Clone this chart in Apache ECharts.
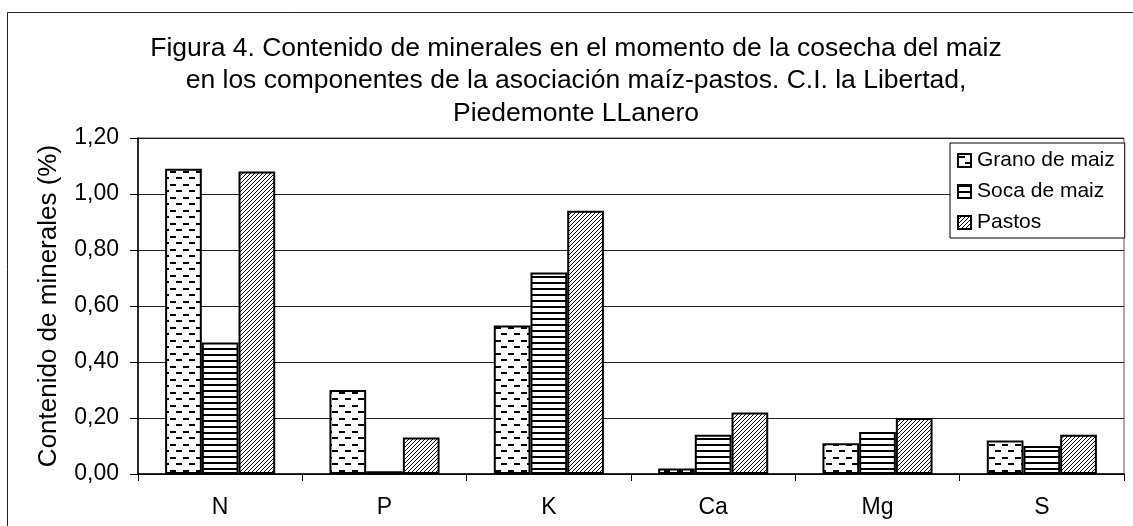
<!DOCTYPE html>
<html><head><meta charset="utf-8">
<script src="https://cdn.jsdelivr.net/npm/echarts@6/dist/echarts.min.js"></script>
<style>html,body{margin:0;padding:0;background:#fff}#c{width:1133px;height:526px}</style>
</head><body><div id="c"></div>
<script>
const categories = ['N', 'P', 'K', 'Ca', 'Mg', 'S'];
const grano = [1.09, 0.30, 0.53, 0.02, 0.11, 0.12];
const soca  = [0.47, 0.01, 0.72, 0.14, 0.15, 0.10];
const pastos = [1.08, 0.13, 0.94, 0.22, 0.20, 0.14];
const seriesNames = ['Grano de maiz', 'Soca de maiz', 'Pastos'];
const yTicks = [0, 0.2, 0.4, 0.6, 0.8, 1.0, 1.2];

function pat(kind) {
  const c = document.createElement('canvas');
  const ctx = c.getContext('2d');
  if (kind === 'dash') {
    c.width = 13; c.height = 13;
    ctx.fillStyle = '#fff'; ctx.fillRect(0, 0, 13, 13);
    ctx.fillStyle = '#000';
    ctx.fillRect(1, 2, 6, 2);
    ctx.fillRect(7, 8, 6, 2);
  } else if (kind === 'hline') {
    c.width = 6; c.height = 6;
    ctx.fillStyle = '#fff'; ctx.fillRect(0, 0, 6, 6);
    ctx.fillStyle = '#000';
    ctx.fillRect(0, 0, 6, 2);
  } else {
    c.width = 4; c.height = 4;
    ctx.fillStyle = '#fff'; ctx.fillRect(0, 0, 4, 4);
    ctx.strokeStyle = '#000'; ctx.lineWidth = 1;
    ctx.beginPath();
    ctx.moveTo(-1, 5); ctx.lineTo(5, -1);
    ctx.moveTo(-1, 1); ctx.lineTo(1, -1);
    ctx.moveTo(3, 5); ctx.lineTo(5, 3);
    ctx.stroke();
  }
  return { image: c, repeat: 'repeat' };
}
const fills = [pat('dash'), pat('hline'), pat('diag')];
const datas = [grano, soca, pastos];

const chart = echarts.init(document.getElementById('c'), null, { renderer: 'canvas' });
const font = '"Liberation Sans", Arial, sans-serif';
chart.setOption({
  backgroundColor: '#fff',
  animation: false,
  title: {
    text: 'Figura 4. Contenido de minerales en el momento de la cosecha del maiz\nen los componentes de la asociación maíz-pastos. C.I. la Libertad,\nPiedemonte LLanero',
    left: 571, top: 27, textAlign: 'center',
    textStyle: { fontFamily: font, fontSize: 26.5, fontWeight: 'normal', color: '#000', lineHeight: 32.5 }
  },
  graphic: [{
    type: 'rect', shape: { x: 7.5, y: 12.5, width: 1140, height: 530 },
    style: { fill: 'none', stroke: '#222', lineWidth: 1 }, silent: true, z: -1
  }, {
    type: 'rect', shape: { x: 138, y: 138, width: 986, height: 336 },
    style: { fill: 'none', stroke: '#555', lineWidth: 1 }, silent: true, z: -1
  }],
  legend: {
    orient: 'vertical', left: 950, top: 143,
    data: seriesNames,
    backgroundColor: '#fff', borderColor: '#000', borderWidth: 1,
    padding: [7, 10, 5, 7], itemGap: 10,
    itemWidth: 13, itemHeight: 13, icon: 'rect',
    textStyle: { fontFamily: font, fontSize: 21, color: '#000', padding: [0, 0, 0, 1] }
  },
  grid: { left: 138, right: 9, top: 138, bottom: 52, containLabel: false },
  xAxis: {
    type: 'category', data: categories,
    axisLine: { lineStyle: { color: '#000', width: 1.5 } },
    axisTick: { show: true, length: 7, lineStyle: { color: '#000' } },
    axisLabel: { fontFamily: font, fontSize: 23, color: '#000', margin: 22 }
  },
  yAxis: {
    type: 'value', min: 0, max: 1.2, interval: 0.2,
    name: 'Contenido de minerales (%)', nameLocation: 'middle', nameGap: 76,
    nameTextStyle: { fontFamily: font, fontSize: 26, color: '#000' },
    axisLine: { show: true, lineStyle: { color: '#000', width: 1.5 } },
    axisTick: { show: true, length: 8, lineStyle: { color: '#000' } },
    axisLabel: {
      fontFamily: font, fontSize: 23, color: '#000', margin: 19,
      formatter: v => { const t = yTicks.find(x => Math.abs(x - v) < 1e-9); return (t !== undefined ? t : v).toFixed(2).replace('.', ','); }
    },
    splitLine: { lineStyle: { color: '#222', width: 1 } }
  },
  series: seriesNames.map((n, i) => ({
    name: n, type: 'bar', data: datas[i],
    barGap: '0%', barCategoryGap: '33%',
    itemStyle: { color: fills[i], borderColor: '#000', borderWidth: 2 }
  }))
});
</script></body></html>
